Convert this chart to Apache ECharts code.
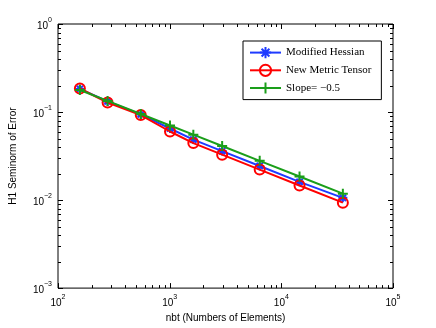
<!DOCTYPE html>
<html><head><meta charset="utf-8">
<script src="https://cdn.jsdelivr.net/npm/echarts@6/dist/echarts.min.js"></script>
<style>html,body{margin:0;padding:0;background:#fff}#c{width:436px;height:328px}</style>
</head><body><div id="c"></div>
<script>
const nbt = [157, 278, 551, 1007, 1629, 2951, 6400, 14550, 35560];
const hessian = [0.183, 0.132, 0.094, 0.065, 0.0486, 0.036, 0.0244, 0.0161, 0.0106];
const metric = [0.185, 0.128, 0.0925, 0.0601, 0.0444, 0.0328, 0.0222, 0.01465, 0.00935];
const slope = [0.178, 0.1338, 0.0950, 0.0703, 0.0553, 0.0411, 0.0279, 0.0185, 0.01183];
const seriesNames = ['Modified Hessian', 'New Metric Tensor', 'Slope= \u22120.5'];
const xMajor = [100, 1000, 10000, 100000];
const yMajor = [0.001, 0.01, 0.1, 1];

const xMinor = [], yMinor = [];
for (let d = 100; d < 100000; d *= 10) for (let k = 2; k <= 9; k++) xMinor.push(d * k);
for (let d = 0.001; d < 0.99; d *= 10) for (let k = 2; k <= 9; k++) yMinor.push(d * k);

const tickData = [];
xMajor.forEach(v => tickData.push([v, 0.001, 0, 1]));
xMinor.forEach(v => tickData.push([v, 0.001, 0, 0]));
yMajor.forEach(v => tickData.push([100, v, 1, 1]));
yMinor.forEach(v => tickData.push([100, v, 1, 0]));

const pair = a => nbt.map((x, i) => [x, a[i]]);
function lab(v) {
  const e = Math.round(Math.log10(v));
  return '{b|10}{s|' + (e < 0 ? '\u2212' + (-e) : e) + '}';
}
const rich = {
  b: { fontFamily: 'Liberation Sans', fontSize: 10, color: '#000', verticalAlign: 'bottom', lineHeight: 15 },
  s: { fontFamily: 'Liberation Sans', fontSize: 7, color: '#000', verticalAlign: 'top', lineHeight: 15 }
};
const asterisk = 'path://M0,-6L0,6M-6,0L6,0M-4.2,-4.2L4.2,4.2M-4.2,4.2L4.2,-4.2';
const plus = 'path://M0,-6L0,6M-6,0L6,0';
const circ = 'path://M10,0A10,10,0,1,1,-10,0A10,10,0,1,1,10,0Z';

const chart = echarts.init(document.getElementById('c'), null, { renderer: 'canvas' });
chart.setOption({
  animation: false,
  backgroundColor: '#fff',
  grid: { left: 57, right: 43, top: 24, bottom: 38, show: true, borderColor: '#000', borderWidth: 1, backgroundColor: 'transparent' },
  xAxis: {
    type: 'log', logBase: 10, min: 100, max: 100000,
    name: 'nbt (Numbers of Elements)', nameLocation: 'middle', nameGap: 22,
    nameTextStyle: { fontFamily: 'Liberation Sans', fontSize: 10, color: '#000' },
    axisLine: { show: false }, axisTick: { show: false }, splitLine: { show: false },
    axisLabel: { formatter: lab, rich: rich, margin: 5, fontFamily: 'Liberation Sans', fontSize: 10, color: '#000' }
  },
  yAxis: {
    type: 'log', logBase: 10, min: 0.001, max: 1,
    name: 'H1 Seminorm of Error', nameLocation: 'middle', nameGap: 40,
    nameTextStyle: { fontFamily: 'Liberation Sans', fontSize: 10, color: '#000' },
    axisLine: { show: false }, axisTick: { show: false }, splitLine: { show: false },
    axisLabel: { formatter: lab, rich: rich, margin: 6, fontFamily: 'Liberation Sans', fontSize: 10, color: '#000' }
  },
  legend: {
    data: seriesNames, orient: 'vertical', left: 243, top: 41,
    backgroundColor: '#fff', borderColor: '#000', borderWidth: 1,
    padding: [5, 10, 5, 6], itemWidth: 31, itemHeight: 14, itemGap: 4.5,
    textStyle: { fontFamily: 'Liberation Serif', fontSize: 11, color: '#000' }
  },
  series: [
    {
      type: 'custom', name: 'ticks', silent: true, data: tickData, z: 1,
      renderItem: function (params, api) {
        const cs = params.coordSys;
        const p = api.coord([api.value(0), api.value(1)]);
        const len = api.value(3) ? 5 : 3;
        const st = { stroke: '#000', lineWidth: 1 };
        if (api.value(2) === 0) {
          const x = Math.round(p[0]) + 0.5;
          return { type: 'group', children: [
            { type: 'line', shape: { x1: x, y1: cs.y + cs.height, x2: x, y2: cs.y + cs.height - len }, style: st },
            { type: 'line', shape: { x1: x, y1: cs.y, x2: x, y2: cs.y + len }, style: st }
          ]};
        } else {
          const y = Math.round(p[1]) + 0.5;
          return { type: 'group', children: [
            { type: 'line', shape: { x1: cs.x, y1: y, x2: cs.x + len, y2: y }, style: st },
            { type: 'line', shape: { x1: cs.x + cs.width, y1: y, x2: cs.x + cs.width - len, y2: y }, style: st }
          ]};
        }
      }
    },
    {
      name: seriesNames[0], type: 'line', data: pair(hessian), z: 3,
      symbol: asterisk, symbolSize: 9,
      lineStyle: { color: '#1f3bff', width: 2 },
      itemStyle: { color: '#1f3bff', borderColor: '#1f3bff', borderWidth: 2 }
    },
    {
      name: seriesNames[1], type: 'line', data: pair(metric), z: 4,
      symbol: circ, symbolSize: 10,
      lineStyle: { color: '#ff0000', width: 2 },
      itemStyle: { color: 'rgba(0,0,0,0)', borderColor: '#ff0000', borderWidth: 2 }
    },
    {
      name: seriesNames[2], type: 'line', data: pair(slope), z: 5,
      symbol: plus, symbolSize: 10,
      lineStyle: { color: '#1a9e1a', width: 2 },
      itemStyle: { color: '#1a9e1a', borderColor: '#1a9e1a', borderWidth: 2 }
    }
  ]
});
</script></body></html>
